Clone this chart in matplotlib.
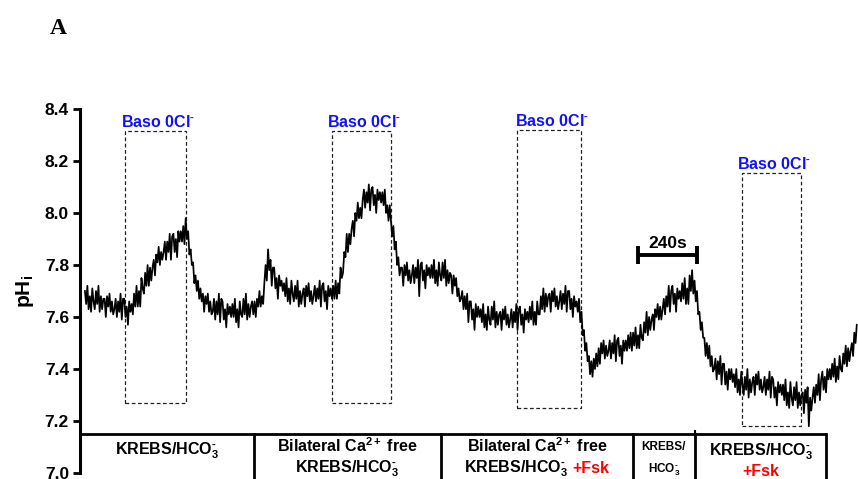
import numpy as np
import matplotlib.pyplot as plt
from matplotlib.patches import Rectangle

# ---- fonts (Arial-like, bold everywhere) ----
plt.rcParams['font.family'] = ['Liberation Sans', 'DejaVu Sans']
plt.rcParams['font.weight'] = 'bold'
plt.rcParams['mathtext.fontset'] = 'custom'
plt.rcParams['mathtext.rm'] = 'Liberation Sans:bold'
plt.rcParams['mathtext.it'] = 'Liberation Sans:bold'
plt.rcParams['mathtext.bf'] = 'Liberation Sans:bold'
plt.rcParams['mathtext.sf'] = 'Liberation Sans:bold'

# ---- pHi trace, one sample every 5 s, split by perfusion period ----
dt = 5
ph_krebs = [
    7.70, 7.65, 7.72, 7.63, 7.68, 7.62, 7.71, 7.66,
    7.63, 7.70, 7.65, 7.72, 7.62, 7.68, 7.63, 7.67,
    7.67, 7.60, 7.68, 7.64, 7.69, 7.62, 7.66, 7.61,
    7.63, 7.67, 7.60, 7.66, 7.62, 7.69, 7.59, 7.67,
    7.67, 7.60, 7.64, 7.57, 7.66, 7.62, 7.65, 7.61,
    7.69, 7.64, 7.72, 7.64, 7.70, 7.64, 7.75, 7.71,
    7.69, 7.77, 7.72, 7.80, 7.72, 7.79, 7.74, 7.79,
    7.82, 7.76, 7.84, 7.81, 7.87, 7.80, 7.85, 7.82,
    7.85, 7.89, 7.82, 7.89, 7.85, 7.92, 7.82, 7.91,
    7.92, 7.85, 7.90, 7.83, 7.93, 7.89, 7.93, 7.89,
    7.95, 7.88, 7.98, 7.90, 7.93, 7.84, 7.86, 7.80,
    7.81, 7.73, 7.76, 7.70, 7.74, 7.67, 7.71, 7.66,
    7.69, 7.62, 7.68, 7.65, 7.69, 7.62, 7.66, 7.61,
    7.62, 7.67, 7.59, 7.66, 7.61, 7.69, 7.58, 7.67,
    7.66, 7.59, 7.63, 7.56, 7.65, 7.61, 7.64, 7.60,
    7.65, 7.60, 7.67, 7.58, 7.63, 7.56, 7.66, 7.61,
    7.60, 7.67, 7.61, 7.69, 7.59, 7.65, 7.60, 7.64,
    7.66, 7.61]
ph_ca_free = [
    7.66, 7.60, 7.67, 7.64, 7.70, 7.64, 7.68, 7.65,
    7.73, 7.80, 7.74, 7.86, 7.78, 7.82, 7.72, 7.79,
    7.79, 7.71, 7.75, 7.67, 7.76, 7.72, 7.74, 7.70,
    7.73, 7.68, 7.75, 7.66, 7.71, 7.65, 7.74, 7.69,
    7.66, 7.72, 7.67, 7.74, 7.64, 7.70, 7.65, 7.69,
    7.71, 7.64, 7.72, 7.68, 7.73, 7.66, 7.70, 7.65,
    7.68, 7.72, 7.66, 7.71, 7.67, 7.74, 7.64, 7.72,
    7.73, 7.66, 7.70, 7.63, 7.72, 7.68, 7.71, 7.67,
    7.72, 7.67, 7.74, 7.67, 7.73, 7.69, 7.79, 7.75,
    7.77, 7.85, 7.83, 7.92, 7.85, 7.92, 7.88, 7.94,
    7.97, 7.91, 8.00, 7.97, 8.04, 7.98, 8.02, 7.98,
    8.05, 8.09, 8.02, 8.08, 8.04, 8.11, 8.01, 8.09,
    8.10, 8.03, 8.07, 8.00, 8.09, 8.05, 8.08, 8.04,
    8.08, 8.03, 8.09, 8.00, 8.03, 7.97, 8.03, 7.97,
    7.91, 7.95, 7.86, 7.89, 7.80, 7.83, 7.76, 7.79,
    7.79, 7.72, 7.80, 7.76, 7.81, 7.74, 7.78, 7.73,
    7.76, 7.80, 7.73, 7.79, 7.75, 7.82, 7.68, 7.80,
    7.81, 7.74, 7.78, 7.71, 7.80, 7.76, 7.79, 7.75,
    7.80, 7.75, 7.82, 7.73, 7.78, 7.72, 7.81, 7.76]
ph_ca_free_fsk = [
    7.74, 7.81, 7.75, 7.82, 7.72, 7.78, 7.73, 7.77,
    7.76, 7.69, 7.76, 7.72, 7.75, 7.68, 7.71, 7.66,
    7.67, 7.70, 7.63, 7.68, 7.63, 7.69, 7.58, 7.66,
    7.66, 7.59, 7.63, 7.55, 7.65, 7.60, 7.64, 7.60,
    7.63, 7.58, 7.65, 7.56, 7.61, 7.55, 7.64, 7.59,
    7.57, 7.64, 7.59, 7.66, 7.56, 7.62, 7.57, 7.61,
    7.62, 7.55, 7.63, 7.59, 7.64, 7.57, 7.61, 7.56,
    7.59, 7.63, 7.56, 7.62, 7.58, 7.65, 7.55, 7.63,
    7.64, 7.57, 7.61, 7.54, 7.63, 7.59, 7.62, 7.58,
    7.64, 7.59, 7.66, 7.57, 7.62, 7.57, 7.66, 7.61,
    7.61, 7.68, 7.63, 7.71, 7.62, 7.69, 7.64, 7.68,
    7.69, 7.62, 7.70, 7.66, 7.71, 7.64, 7.68, 7.63,
    7.66, 7.70, 7.63, 7.69, 7.65, 7.72, 7.62, 7.70,
    7.70, 7.63, 7.67, 7.60, 7.68, 7.64, 7.66, 7.62,
    7.67, 7.58, 7.62, 7.53, 7.55, 7.47, 7.50, 7.43,
    7.45, 7.38, 7.43, 7.37, 7.44, 7.40, 7.46, 7.41,
    7.48, 7.42, 7.50, 7.46, 7.51, 7.44, 7.49, 7.45,
    7.47, 7.51, 7.44, 7.50, 7.46, 7.53, 7.43, 7.51,
    7.52, 7.45, 7.49, 7.42, 7.51, 7.47, 7.51, 7.47,
    7.53, 7.48, 7.54, 7.47]
ph_krebs2 = [
    7.54, 7.49, 7.56, 7.48, 7.53, 7.48, 7.57, 7.52,
    7.51, 7.58, 7.54, 7.62, 7.53, 7.60, 7.55, 7.59,
    7.61, 7.55, 7.63, 7.60, 7.65, 7.59, 7.64, 7.59,
    7.63, 7.67, 7.61, 7.68, 7.64, 7.72, 7.62, 7.70,
    7.72, 7.65, 7.69, 7.62, 7.71, 7.67, 7.70, 7.66,
    7.73, 7.67, 7.75, 7.65, 7.71, 7.65, 7.76, 7.70,
    7.78, 7.69]
ph_krebs_fsk = [
    7.74, 7.66, 7.70, 7.61, 7.62, 7.55, 7.58, 7.52,
    7.52, 7.45, 7.50, 7.44, 7.49, 7.41, 7.45, 7.39,
    7.40, 7.44, 7.36, 7.43, 7.38, 7.45, 7.34, 7.42,
    7.42, 7.34, 7.39, 7.32, 7.40, 7.36, 7.40, 7.35,
    7.38, 7.33, 7.40, 7.31, 7.36, 7.30, 7.39, 7.34,
    7.30, 7.37, 7.32, 7.40, 7.29, 7.36, 7.31, 7.35,
    7.37, 7.30, 7.38, 7.34, 7.39, 7.32, 7.36, 7.31,
    7.33, 7.37, 7.30, 7.36, 7.32, 7.39, 7.29, 7.37,
    7.36, 7.29, 7.33, 7.26, 7.35, 7.31, 7.34, 7.30,
    7.34, 7.28, 7.36, 7.26, 7.31, 7.25, 7.35, 7.29,
    7.26, 7.33, 7.28, 7.35, 7.25, 7.31, 7.26, 7.30,
    7.31, 7.23, 7.32, 7.27, 7.33, 7.18, 7.29, 7.24,
    7.29, 7.33, 7.27, 7.34, 7.30, 7.38, 7.28, 7.36,
    7.39, 7.32, 7.37, 7.31, 7.40, 7.36, 7.40, 7.36,
    7.42, 7.37, 7.44, 7.35, 7.41, 7.36, 7.45, 7.40,
    7.39, 7.46, 7.42, 7.49, 7.41, 7.48, 7.43, 7.47,
    7.50, 7.45, 7.54, 7.50, 7.57]

ph = np.concatenate([ph_krebs, ph_ca_free, ph_ca_free_fsk, ph_krebs2, ph_krebs_fsk])
t = np.arange(len(ph)) * dt

# solution change times (s) for the table under the trace
period_edges = [-20, 687, 1448, 2229, 2482, 3015]

# basolateral 0Cl- windows: start, end (s), bottom, top (pH)
baso_start = [163, 1005, 1758, 2673]
baso_end = [411, 1245, 2018, 2913]
baso_low = [7.27, 7.27, 7.25, 7.18]
baso_high = [8.315, 8.315, 8.32, 8.155]

bar_start, bar_len, bar_y = 2250, 240, 7.838

MINUS = r'\text{-}'

# ================= figure =================
fig = plt.figure(figsize=(8.58, 4.79), dpi=100)
ax = fig.add_axes([80 / 858, 6 / 479, 778 / 858, 364 / 479])

ax.plot(t, ph, color='black', lw=1.25)
ax.set_xlim(-20, 3145)
ax.set_ylim(7.0, 8.4)

for s in ['top', 'right', 'bottom']:
    ax.spines[s].set_visible(False)
ax.spines['left'].set_linewidth(2.2)
ax.set_xticks([])
ax.set_yticks(np.arange(7.0, 8.41, 0.2))
ax.set_yticklabels(['%.1f' % v for v in np.arange(7.0, 8.41, 0.2)])
ax.tick_params(axis='y', direction='out', length=5, width=2, labelsize=12.5, pad=3)

ax.text(-55 / 778, 0.5, r'pH$_\mathregular{i}$', transform=ax.transAxes, rotation=90,
        ha='center', va='center', fontsize=15, fontweight='bold')

# --- dashed Baso 0Cl- boxes ---
for x0, x1, y0, y1 in zip(baso_start, baso_end, baso_low, baso_high):
    ax.add_patch(Rectangle((x0, y0), x1 - x0, y1 - y0, fill=False, lw=0.9,
                           ls=(0, (3, 2)), ec='#222222'))
    ax.text((x0 + x1) / 2 + 12, y1 + 0.016, r'Baso 0Cl$^{%s}$' % MINUS, color='#1010ff',
            ha='center', va='baseline', fontsize=11.5, fontweight='bold')

# --- 240 s scale bar ---
ax.plot([bar_start, bar_start + bar_len], [bar_y, bar_y], color='black', lw=2.8,
        marker='|', markersize=13, markeredgewidth=2.8, solid_capstyle='butt')
ax.text(bar_start + bar_len / 2, bar_y + 0.015, '240s', ha='center', va='bottom',
        fontsize=12.5, fontweight='bold')

# --- perfusion table under the trace ---
ax.plot([period_edges[0], period_edges[-1]], [7.15, 7.15], color='black', lw=2,
        clip_on=False, solid_capstyle='butt')
for e in period_edges[1:]:
    ax.plot([e, e], [7.15, 6.9], color='black', lw=2, clip_on=False)
ax.plot([period_edges[4], period_edges[4]], [7.15, 7.162], color='black', lw=1.5, clip_on=False)

hco3 = r'KREBS/HCO$_3^{%s}$' % MINUS
ca_free = r'Bilateral Ca$^{2+}$ free'
mids = [(a + b) / 2 for a, b in zip(period_edges[:-1], period_edges[1:])]
fs = 11.5
ax.text(mids[0], 7.085, hco3, ha='center', va='center', fontsize=fs)
ax.text(mids[1], 7.104, ca_free, ha='center', va='center', fontsize=fs)
ax.text(mids[1], 7.018, hco3, ha='center', va='center', fontsize=fs)
ax.text(mids[2], 7.104, ca_free, ha='center', va='center', fontsize=fs)
ax.text(mids[2] + 125, 7.018, hco3, ha='right', va='center', fontsize=fs)
ax.text(mids[2] + 145, 7.018, '+Fsk', ha='left', va='center', fontsize=fs, color='#ff0000')
ax.text(mids[3], 7.10, 'KREBS/', ha='center', va='center', fontsize=8.5)
ax.text(mids[3], 7.012, r'HCO$_3^{%s}$' % MINUS, ha='center', va='center', fontsize=8.5)
ax.text(mids[4], 7.08, hco3, ha='center', va='center', fontsize=fs)
ax.text(mids[4], 7.005, '+Fsk', ha='center', va='center', fontsize=fs, color='#ff0000')

fig.text(58 / 858, 1 - 28 / 479, 'A', ha='center', va='center', fontsize=17,
         fontweight='bold', family=['Liberation Serif', 'DejaVu Serif'])

fig.savefig('out.png', dpi=100)
